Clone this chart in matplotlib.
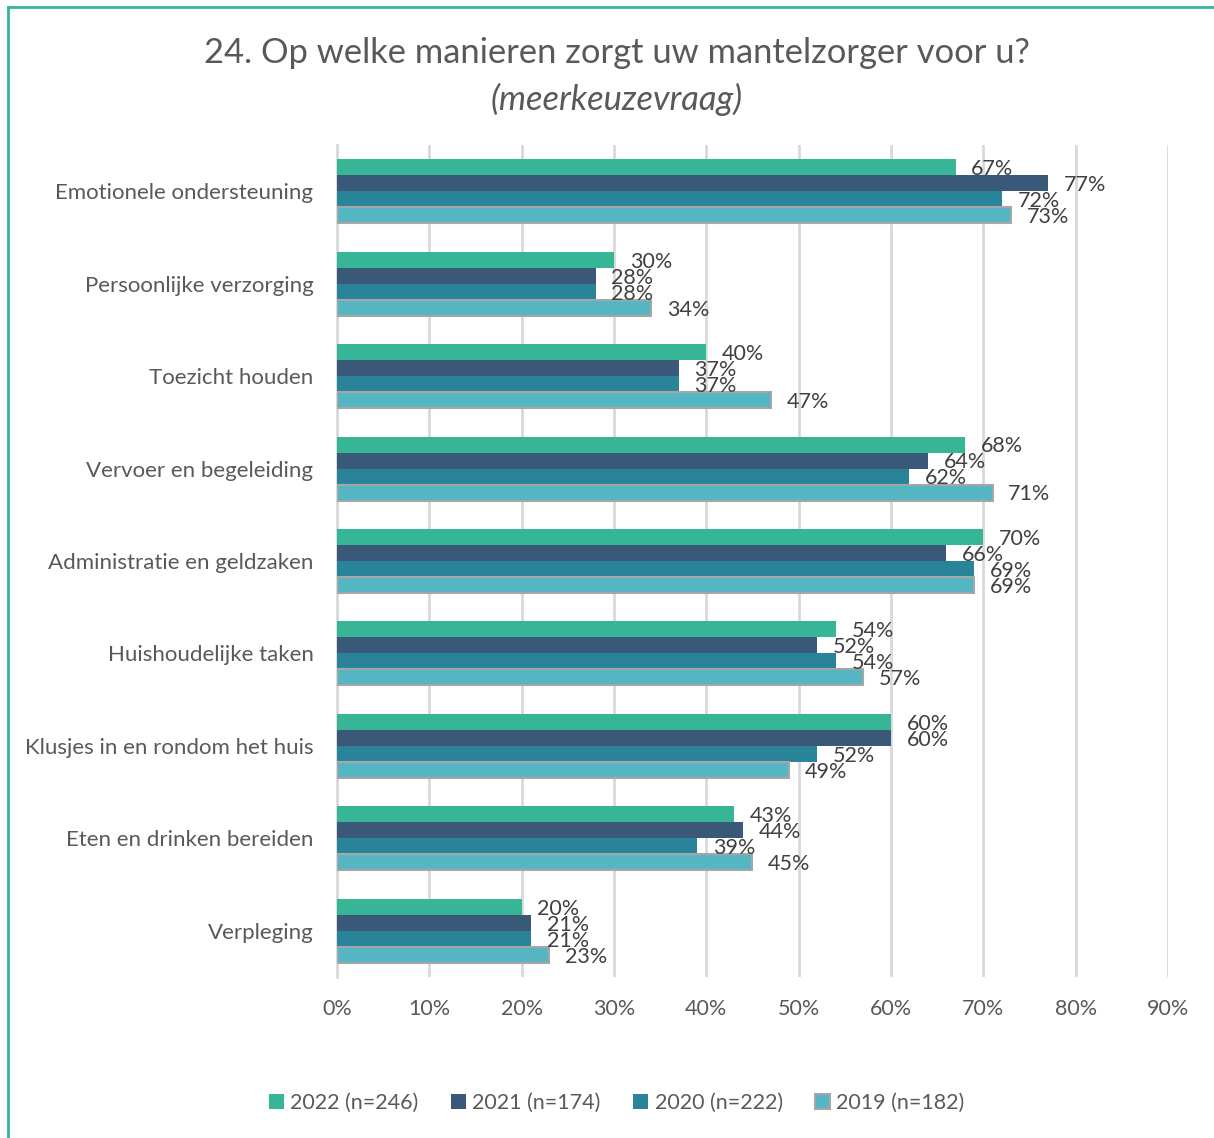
import numpy as np
import matplotlib
matplotlib.use("Agg")
from matplotlib import pyplot as plt
from matplotlib.lines import Line2D

plt.rcParams['font.family'] = ['Lato', 'DejaVu Sans']

categories = ["Emotionele ondersteuning", "Persoonlijke verzorging", "Toezicht houden",
              "Vervoer en begeleiding", "Administratie en geldzaken", "Huishoudelijke taken",
              "Klusjes in en rondom het huis", "Eten en drinken bereiden", "Verpleging"]
series_names = ["2022 (n=246)", "2021 (n=174)", "2020 (n=222)", "2019 (n=182)"]
v2022 = [67, 30, 40, 68, 70, 54, 60, 43, 20]
v2021 = [77, 28, 37, 64, 66, 52, 60, 44, 21]
v2020 = [72, 28, 37, 62, 69, 54, 52, 39, 21]
v2019 = [73, 34, 47, 71, 69, 57, 49, 45, 23]
xticks = [0, 10, 20, 30, 40, 50, 60, 70, 80, 90]

colors = ["#37B597", "#3A5878", "#2A8499", "#55B6C3"]
edges = ["none", "none", "none", "#A6A6A6"]
txt = "#595959"

fig = plt.figure(figsize=(12.14, 11.38), dpi=100)
ax = fig.add_axes([0.2776, 0.1415, 0.6845, 0.731])

y = np.arange(len(categories))
h = 0.173
all_vals = [v2022, v2021, v2020, v2019]
for i, vals in enumerate(all_vals):
    pos = y - 1.5 * h + i * h
    ax.barh(pos, vals, height=h, color=colors[i], edgecolor=edges[i],
            linewidth=1.5 if edges[i] != "none" else 0, label=series_names[i], zorder=3)
    for p, v in zip(pos, vals):
        ax.text(v + 1.7, p + 0.02, f"{v}%", va="center", ha="left", fontsize=15.5,
                color="#404040", zorder=4)

ax.set_xlim(0, 90)
ax.set_ylim(len(categories) - 0.5, -0.5)
ax.set_yticks(y)
ax.set_yticklabels(categories, fontsize=16, color=txt)
ax.set_xticks(xticks)
ax.set_xticklabels([f"{t}%" for t in xticks], fontsize=15.5, color=txt)
ax.tick_params(length=0)
ax.tick_params(axis="x", pad=16)
ax.tick_params(axis="y", pad=17)
ax.grid(axis="x", color="#D9D9D9", linewidth=2, zorder=0)
for s in ["top", "right", "bottom"]:
    ax.spines[s].set_visible(False)
ax.spines["left"].set_color("#D9D9D9")
ax.spines["left"].set_linewidth(2)

fig.text(0.508, 0.953, "24. Op welke manieren zorgt uw mantelzorger voor u?",
         ha="center", va="center", fontsize=24.8, color=txt)
fig.text(0.508, 0.913, "(meerkeuzevraag)", ha="center", va="center",
         fontsize=24.8, color=txt, style="italic")

fig.legend(loc="center", bbox_to_anchor=(0.508, 0.031), ncol=4, frameon=False,
           fontsize=15.5, handlelength=0.7, handleheight=0.7, handletextpad=0.3,
           columnspacing=1.5, labelcolor=txt)

# teal frame (top and left edge)
fig.add_artist(Line2D([0.0066, 0.0066], [0, 0.994], color="#37B597", linewidth=2, transform=fig.transFigure))
fig.add_artist(Line2D([0.0066, 1], [0.994, 0.994], color="#37B597", linewidth=2, transform=fig.transFigure))

fig.savefig("out.png", dpi=100, facecolor="white")
